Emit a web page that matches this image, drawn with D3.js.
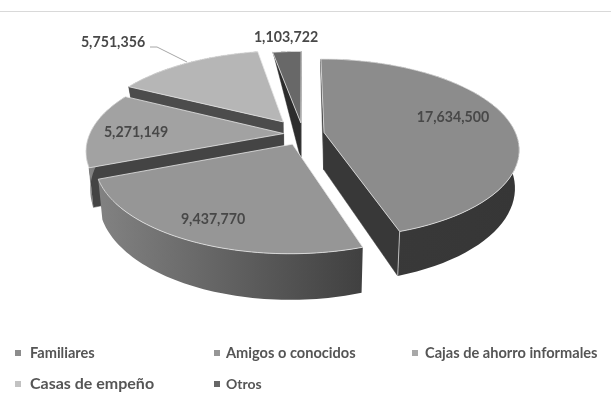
<!DOCTYPE html>
<html><head><meta charset="utf-8">
<script src="https://cdn.jsdelivr.net/npm/d3@7"></script>
<style>html,body{margin:0;padding:0;background:#fff}svg{display:block;filter:blur(.45px)}</style>
</head><body><svg id="c" width="611" height="402"></svg>
<script>
const categories=["Familiares","Amigos o conocidos","Cajas de ahorro informales","Casas de empeño","Otros"];
const values=[17634500,9437770,5271149,5751356,1103722];
const explode=[0.11,0.125,0.10,0.175,0.13];
const rimScale=[0.99,0.98,1,1,1];
const topColors=["#8c8c8c","#969696","#a2a2a2","#b6b6b6","#686868"];
const cutColors=["#383838","#404040","#444444","#4c4c4c","#2c2c2c"];
const wallLeft=["#3a3a3a","#828282","#8a8a8a","#4c4c4c","#2c2c2c"];
const wallRight=["#363636","#404040","#5a5a5a","#4c4c4c","#2c2c2c"];
const legendColors=["#8c8c8c","#969696","#a8a8a8","#c2c2c2","#666666"];
const paintOrder=[3,4,2,1,0];

const cx=303,cy=134,R=194,Rs=88,K=0.18,D=37,shrink=0.98;
const labelAt=[[453,117],[213,219],[136,132],[113,42],[286,37]];
const legendAt=[[18,30,353,14.6],[217,226,353,14.6],[415,425,353,14.6],[18,30,384,16],[217,226,384,14]];

const fmt=d3.format(",");
const svg=d3.select("#c");
const defs=svg.append("defs");
const pie=d3.pie().sort(null).value(d=>d)(values);
const taper=d3.scaleLinear().domain([-1.13,-0.2]).range([0,1]).clamp(true);

function disc(a,rho,e,mid){
  const u=rho*Math.sin(a)+e*Math.sin(mid), v=-rho*Math.cos(a)-e*Math.cos(mid);
  return {u,v};
}
function upper(p){const w=1-K*p.v;return [cx+R*p.u/w,cy+Rs*p.v/w];}
function lower(p){const w=1-K*p.v;return [cx+shrink*R*p.u/w,cy+Rs*p.v/w+(D/w)*taper(p.v)];}
const line=d3.line();

svg.append("line").attr("x1",0).attr("x2",611).attr("y1",11.5).attr("y2",11.5).attr("stroke","#d9d9d9").attr("stroke-width",1);

paintOrder.forEach(i=>{
  const s=pie[i],e=explode[i],mid=(s.startAngle+s.endAngle)/2;
  const angs=d3.range(0,61).map(t=>s.startAngle+(s.endAngle-s.startAngle)*t/60);
  const rim=angs.map(a=>disc(a,rimScale[i],e,mid));
  const apex=disc(0,0,e,mid);
  const gid="w"+i;
  const xs=rim.map(upper);
  const g=defs.append("linearGradient").attr("id",gid).attr("gradientUnits","userSpaceOnUse")
    .attr("x1",d3.min(xs,d=>d[0])).attr("x2",d3.max(xs,d=>d[0])).attr("y1",0).attr("y2",0);
  g.append("stop").attr("offset",0).attr("stop-color",wallLeft[i]);
  g.append("stop").attr("offset",1).attr("stop-color",wallRight[i]);
  [[rim[0],1],[rim[60],-1]].forEach(([p,sign])=>{
    const poly=[upper(apex),upper(p),lower(p),lower(apex)];
    if(sign*d3.polygonArea(poly)>0){
      svg.append("path").attr("d",line(poly)+"Z").attr("fill",cutColors[i]).attr("stroke",cutColors[i]).attr("stroke-width",.5);
    }
  });
  svg.append("path").attr("d",line(rim.map(upper).concat(rim.map(lower).reverse()))+"Z").attr("fill",`url(#${gid})`).attr("stroke","none");
  const endB=[upper(rim[60]),lower(rim[60])];
  if(i===0) svg.append("path").attr("d",line(endB)).attr("stroke","#d8d8d8").attr("stroke-width",.8).attr("fill","none");
  svg.append("path").attr("d",line([upper(apex)].concat(rim.map(upper)))+"Z").attr("fill",topColors[i]).attr("stroke","#e6e6e6").attr("stroke-width",.8).attr("stroke-linejoin","round");
});

svg.append("path").attr("d",line([[150,47],[157,47],[187,62]])).attr("fill","none").attr("stroke","#a6a6a6").attr("stroke-width",1);

const labelFont="Lato,sans-serif";
svg.append("g").selectAll("text").data(values).join("text")
  .attr("x",(d,i)=>labelAt[i][0]).attr("y",(d,i)=>labelAt[i][1]+5)
  .attr("text-anchor","middle").attr("font-family",labelFont).attr("font-size",14.2).attr("font-weight",700)
  .attr("fill","#484848").text(d=>fmt(d));

const lg=svg.append("g").selectAll("g").data(categories).join("g");
lg.append("rect").attr("x",(d,i)=>legendAt[i][0]-3).attr("y",(d,i)=>legendAt[i][2]-3).attr("width",6).attr("height",6).attr("fill",(d,i)=>legendColors[i]);
lg.append("text").attr("x",(d,i)=>legendAt[i][1]).attr("y",(d,i)=>legendAt[i][2]+4.5)
  .attr("font-family",labelFont).attr("font-size",(d,i)=>legendAt[i][3]).attr("font-weight",700).attr("fill","#555555").text(d=>d);
</script></body></html>
